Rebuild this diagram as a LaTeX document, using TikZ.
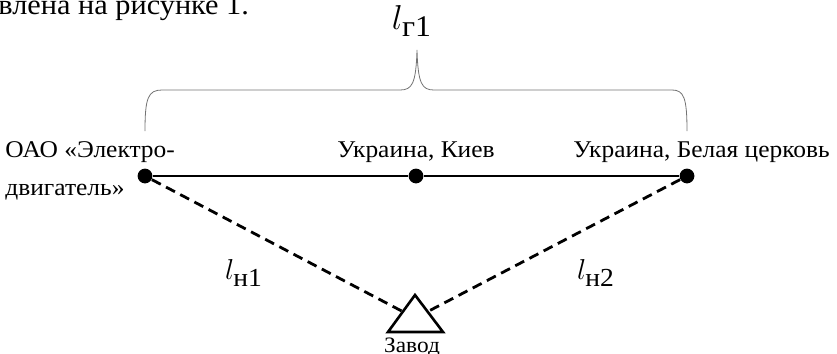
\documentclass[tikz,border=0pt]{standalone}
\usepackage{fontspec}
\setmainfont{Liberation Serif}[FakeStretch=1.06]
\usetikzlibrary{calc}

\begin{document}
\begin{tikzpicture}[x=0.5pt, y=-0.5pt,
  font=\fontsize{12}{19}\selectfont,
  dot/.style={circle, fill=black, inner sep=0pt, minimum size=7.4pt},
  road/.style={line width=1.4pt},
  near/.style={line width=1.4pt, dash pattern=on 5pt off 3pt},
  place/.style={anchor=base, inner sep=0pt},
  dist/.style={font=\fontsize{15}{17}\selectfont, inner sep=0pt},
  brace/.style={line width=0.4pt, draw=black!55}
]
\useasboundingbox (0,0) rectangle (837,354);
\clip (0,0) rectangle (837,354);
% ---------- text above ----------
\node[anchor=base west, inner sep=0pt, font=\fontsize{14.3}{16}\selectfont] (txt) at (-2,14) {влена на рисунке 1.};
% ---------- cities ----------
\node[dot] (e) at (145,176) {};
\node[dot] (k) at (416,176) {};
\node[dot] (b) at (687,176) {};
\draw[road] (e) -- (k) -- (b);
\node[anchor=base west, inner sep=0pt, align=left] (le) at (5,195) {ОАО «Электро-\\двигатель»};
\node[place] (lk) at (416,157) {Украина, Киев};
\node[anchor=base west, inner sep=0pt] (lb) at (573,157) {Украина, Белая церковь};
% ---------- plant ----------
\coordinate (ta) at (415,295);
\coordinate (tl) at (388,332);
\coordinate (tr) at (443,332);
\draw[line width=1.3pt, line join=miter] (ta) -- (tl) -- (tr) -- cycle;
\node[place, font=\fontsize{11}{12}\selectfont] (zv) at (412,352) {Завод};
\draw[near] (e) -- ($(tl)!0.55!(ta)$);
\draw[near] (b) -- ($(tr)!0.55!(ta)$);
\node[dist] (ln1) at (244,273) {$l_{\mbox{\fontsize{13}{13}\selectfont н1}}$};
\node[dist] (ln2) at (596,273) {$l_{\mbox{\fontsize{13}{13}\selectfont н2}}$};
% ---------- brace ----------
\coordinate (bl) at (145,131);
\coordinate (br) at (687,131);
\coordinate (bt) at (417,50);
\draw[brace] (bl) .. controls (145,98) and (148,90) .. (162,90) -- (400,90)
  .. controls (412,90) and (416,84) .. (bt)
  .. controls (418,84) and (422,90) .. (434,90) -- (672,90)
  .. controls (684,90) and (687,98) .. (br);
\node[dist, font=\fontsize{18}{19}\selectfont] (lg) at (412,21) {$l_{\mbox{\fontsize{15}{15}\selectfont г1}}$};
\end{tikzpicture}
\end{document}
